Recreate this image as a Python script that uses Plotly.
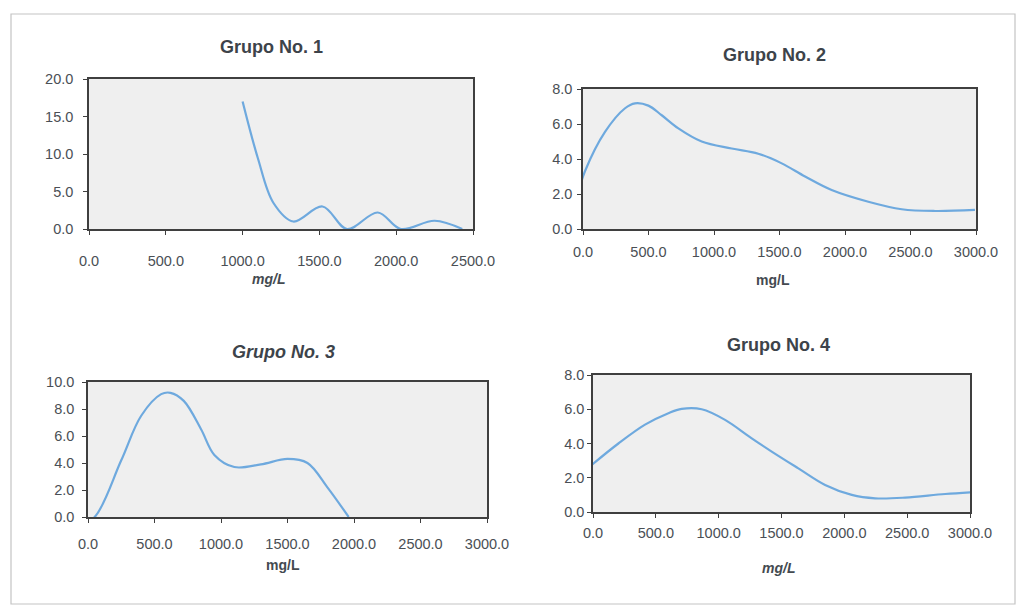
import plotly.graph_objects as go

W, H = 1017, 607

# ---- data ----
g1_x = [1000, 1100, 1200, 1330, 1520, 1680, 1880, 2030, 2250, 2430]
g1_y = [17.0, 9.4, 3.5, 1.0, 3.0, 0.0, 2.2, 0.0, 1.1, 0.0]

g2_x = [-36, 15, 168, 321, 397, 499, 601, 728, 906, 1135, 1338, 1517, 1695, 1898, 2178, 2433, 2687, 2992]
g2_y = [2.1, 3.3, 5.55, 6.9, 7.18, 7.05, 6.5, 5.75, 5.0, 4.6, 4.3, 3.75, 3.0, 2.23, 1.56, 1.13, 1.03, 1.09]

g3_x = [-60, 50, 250, 400, 550, 620, 720, 850, 950, 1100, 1300, 1500, 1650, 1800, 1960]
g3_y = [-0.5, 0.0, 4.2, 7.5, 9.1, 9.2, 8.6, 6.5, 4.6, 3.7, 3.9, 4.3, 4.0, 2.2, 0.0]

g4_x = [-10, 202, 414, 600, 706, 865, 1051, 1263, 1422, 1634, 1847, 2059, 2245, 2484, 2803, 3095]
g4_y = [2.75, 4.0, 5.1, 5.77, 6.02, 6.0, 5.38, 4.3, 3.53, 2.55, 1.58, 1.0, 0.8, 0.84, 1.05, 1.19]

titles = ["Grupo No. 1", "Grupo No. 2", "Grupo No. 3", "Grupo No. 4"]
x_ranges = [[0, 2500], [0, 3000], [0, 3000], [0, 3000]]
y_ranges = [[0, 20], [0, 8], [0, 10], [0, 8]]
x_dtick = [500, 500, 500, 500]
y_dtick = [5, 2, 2, 2]
x_label = "mg/L"

# ---- layout geometry (pixels) ----
boxes = [(89, 473, 79, 229), (583, 976, 89, 229), (88, 487, 382, 517), (593, 970, 375, 512)]
title_pos = [(271, 47), (774, 55), (283, 352), (778, 345)]
xlab_pos = [(268, 279), (773, 280), (283, 565), (778, 568)]
title_italic = [False, False, True, False]
xlab_italic = [True, False, False, True]
xstand = [14, 5, 9, 3]
ystand = [7, 2, 5, 0]

LINE = "#6ea9de"
AX = "#3f3f3f"
TXT = "#4a4f55"

series = [(g1_x, g1_y), (g2_x, g2_y), (g3_x, g3_y), (g4_x, g4_y)]

fig = go.Figure()
layout = dict(
    width=W, height=H, autosize=False, margin=dict(l=0, r=0, t=0, b=0, pad=0),
    paper_bgcolor="white", plot_bgcolor="#efefef",
    showlegend=False, font=dict(family="Liberation Sans, Arial", color=TXT),
)

annotations = []
for i, ((x, y), (x0, x1, y0, y1)) in enumerate(zip(series, boxes)):
    n = "" if i == 0 else str(i + 1)
    xa, ya = "x" + n, "y" + n
    fig.add_trace(go.Scatter(x=x, y=y, mode="lines", xaxis=xa, yaxis=ya,
                             line=dict(color=LINE, width=2.2, shape="spline", smoothing=1.0)))
    axcommon = dict(showgrid=False, zeroline=False, showline=True, mirror=True,
                    automargin=False,
                    linecolor=AX, linewidth=1.5, ticks="outside", ticklen=4,
                    tickcolor=AX, tickformat=".1f",
                    tickfont=dict(size=14.5, color=TXT, family="Liberation Sans, Arial"))
    layout["xaxis" + n] = dict(axcommon, domain=[x0 / W, x1 / W], range=x_ranges[i],
                               dtick=x_dtick[i], tick0=0, anchor=ya,
                               ticklabelstandoff=xstand[i])
    layout["yaxis" + n] = dict(axcommon, domain=[1 - y1 / H, 1 - y0 / H], range=y_ranges[i],
                               dtick=y_dtick[i], tick0=0, anchor=xa,
                               ticklabelstandoff=ystand[i])
    tx, ty = title_pos[i]
    t = titles[i]
    if title_italic[i]:
        t = "<i>" + t + "</i>"
    annotations.append(dict(x=tx / W, y=1 - ty / H, xref="paper", yref="paper",
                            text="<b>" + t + "</b>", showarrow=False,
                            font=dict(size=18, color="#3d434a", family="Liberation Sans, Arial"),
                            xanchor="center", yanchor="middle"))
    lx, ly = xlab_pos[i]
    lt = x_label
    if xlab_italic[i]:
        lt = "<i>" + lt + "</i>"
    annotations.append(dict(x=lx / W, y=1 - ly / H, xref="paper", yref="paper",
                            text="<b>" + lt + "</b>", showarrow=False,
                            font=dict(size=14, color="#444a50", family="Liberation Sans, Arial"),
                            xanchor="center", yanchor="middle"))

layout["annotations"] = annotations
layout["shapes"] = [dict(type="rect", xref="paper", yref="paper",
                         x0=11 / W, x1=1015 / W, y0=1 - 604 / H, y1=1 - 14 / H,
                         line=dict(color="#c4c4c4", width=1.2), layer="below")]
fig.update_layout(**layout)
fig.write_html("out.html", config={"responsive": False, "displayModeBar": False},
               post_script="document.body.style.margin='0';document.body.style.overflow='hidden';")
